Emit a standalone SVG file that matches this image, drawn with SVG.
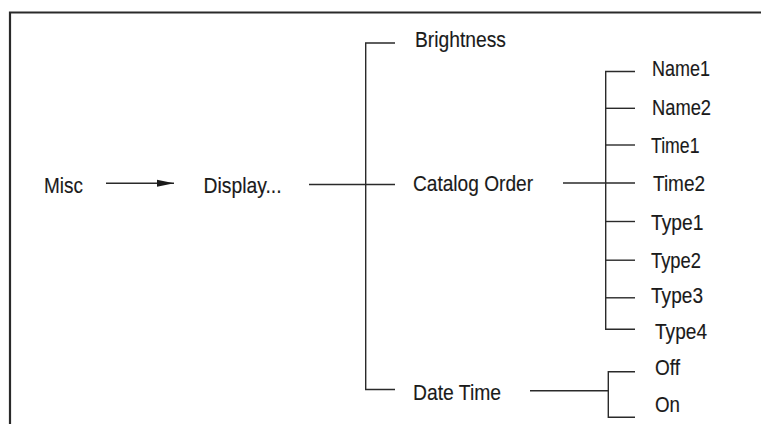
<svg xmlns="http://www.w3.org/2000/svg" width="761" height="424" viewBox="0 0 761 424">
<style>
text{font-family:"Liberation Sans",Arial,Helvetica,sans-serif;font-size:22px;fill:#1a1a1a;stroke:#1a1a1a;stroke-width:0.15}
.c{stroke:#2a2a2a;stroke-width:1.4;fill:none}
.f{stroke:#2a2a2a;stroke-width:2.2;fill:none}
</style>
<defs>
<marker id="ah" markerWidth="17" markerHeight="8" refX="17" refY="4" orient="auto" markerUnits="userSpaceOnUse">
<path d="M0,0.5 L17,4 L0,7.5 Z" fill="#1a1a1a"/>
</marker>
</defs>
<rect width="761" height="424" fill="#fff"/>
<path class="f" d="M10,424 V12.5 H761"/>
<g id="connectors">
<line class="c" x1="106" y1="183.3" x2="174" y2="183.3" marker-end="url(#ah)"/>
<line class="c" x1="309" y1="184.5" x2="395" y2="184.5"/>
<path class="c" d="M395,43 H365.7 V389.5 H395"/>
<line class="c" x1="563" y1="183" x2="635" y2="183"/>
<path class="c" d="M635,71.5 H605.7 V329.3 H635"/>
<line class="c" x1="605.7" y1="108.3" x2="635" y2="108.3"/>
<line class="c" x1="605.7" y1="145" x2="635" y2="145"/>
<line class="c" x1="605.7" y1="221.5" x2="635" y2="221.5"/>
<line class="c" x1="605.7" y1="260.2" x2="635" y2="260.2"/>
<line class="c" x1="605.7" y1="297.8" x2="635" y2="297.8"/>
<line class="c" x1="530" y1="390.7" x2="608.3" y2="390.7"/>
<path class="c" d="M635,371.7 H608.3 V417.3 H635"/>
</g>
<g id="misc"><text x="44" y="193" textLength="39" lengthAdjust="spacingAndGlyphs">Misc</text></g>
<g id="display"><text x="203.5" y="193" textLength="78" lengthAdjust="spacingAndGlyphs">Display...</text></g>
<g id="brightness"><text x="415" y="46.7" textLength="91" lengthAdjust="spacingAndGlyphs">Brightness</text></g>
<g id="catalog-order"><text x="413" y="191" textLength="120" lengthAdjust="spacingAndGlyphs">Catalog Order</text></g>
<g id="date-time"><text x="413" y="400" textLength="88" lengthAdjust="spacingAndGlyphs">Date Time</text></g>
<g id="name1"><text x="652" y="76" textLength="58" lengthAdjust="spacingAndGlyphs">Name1</text></g>
<g id="name2"><text x="652" y="114.5" textLength="59" lengthAdjust="spacingAndGlyphs">Name2</text></g>
<g id="time1"><text x="651" y="152.5" textLength="48.5" lengthAdjust="spacingAndGlyphs">Time1</text></g>
<g id="time2"><text x="653" y="191" textLength="52" lengthAdjust="spacingAndGlyphs">Time2</text></g>
<g id="type1"><text x="651" y="230" textLength="52.5" lengthAdjust="spacingAndGlyphs">Type1</text></g>
<g id="type2"><text x="651" y="267.5" textLength="50" lengthAdjust="spacingAndGlyphs">Type2</text></g>
<g id="type3"><text x="651" y="303" textLength="52" lengthAdjust="spacingAndGlyphs">Type3</text></g>
<g id="type4"><text x="655" y="338.5" textLength="52" lengthAdjust="spacingAndGlyphs">Type4</text></g>
<g id="off"><text x="655" y="375" textLength="25" lengthAdjust="spacingAndGlyphs">Off</text></g>
<g id="on"><text x="655" y="411.7" textLength="25" lengthAdjust="spacingAndGlyphs">On</text></g>
</svg>
